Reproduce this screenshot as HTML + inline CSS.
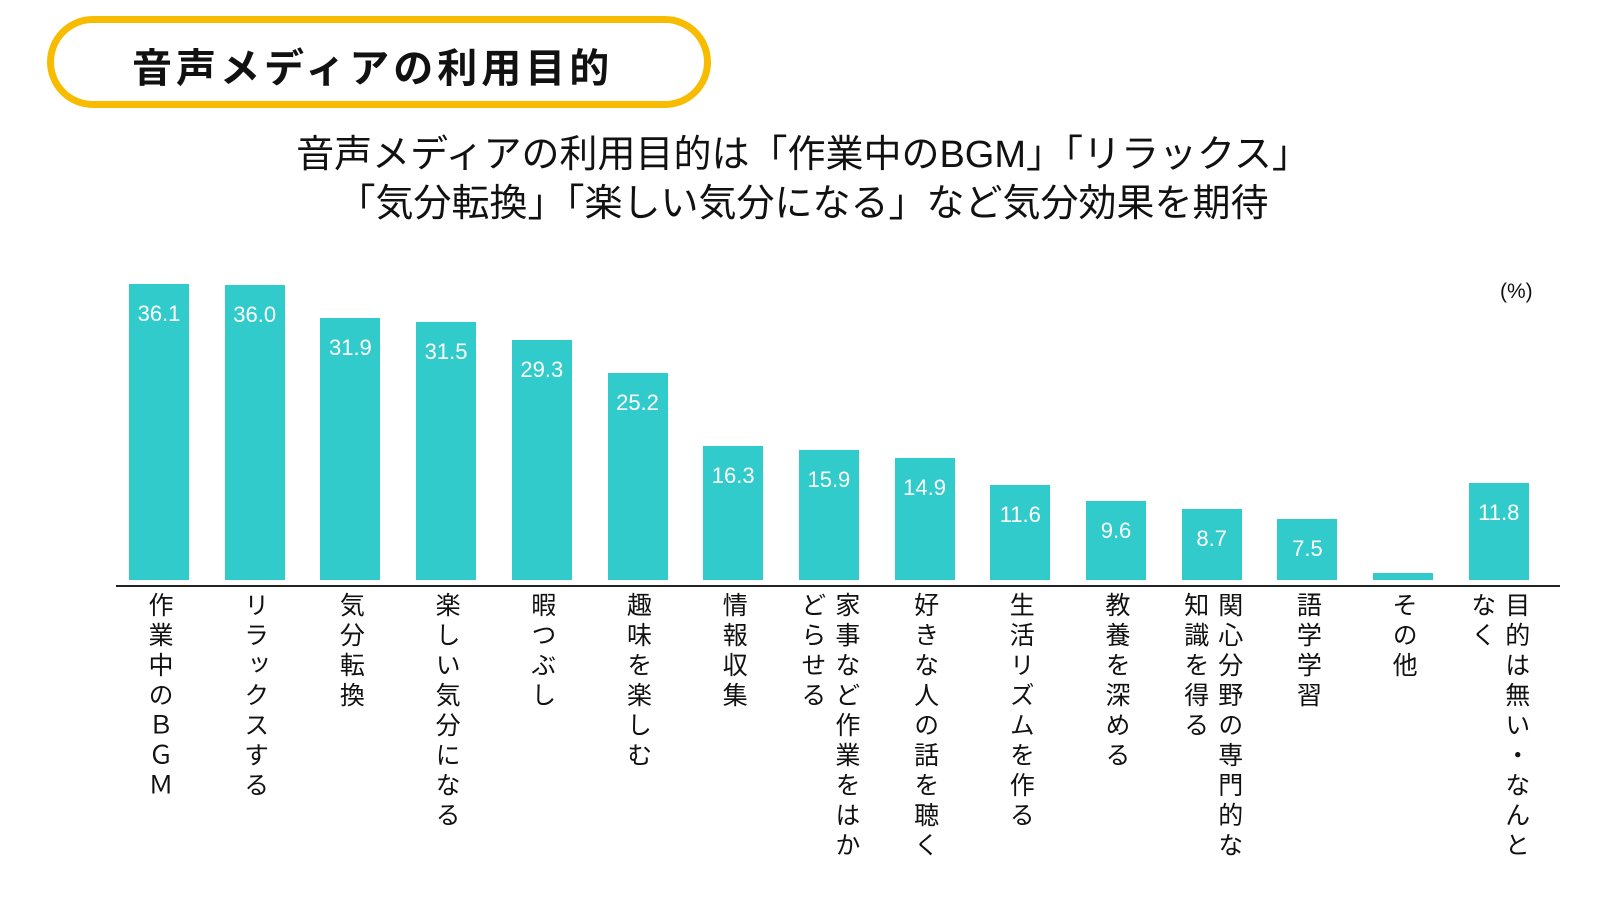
<!DOCTYPE html>
<html><head><meta charset="utf-8"><style>
body{margin:0;width:1600px;height:900px;background:#fff;position:relative;overflow:hidden;font-family:"Liberation Sans","Noto Sans CJK JP",sans-serif;color:#111}
.box{position:absolute;left:47px;top:16px;width:650px;height:78px;border:7px solid #F7BC00;border-radius:46px}
.ttl{position:absolute;left:132px;top:36px;font-size:40px;font-weight:bold;letter-spacing:4px}
.sub{position:absolute;left:0;width:1606px;text-align:center;font-size:38px;line-height:49px;top:131px}
.bar{position:absolute;width:60px;background:#32CBCB;bottom:320px}
.val{position:absolute;width:60px;text-align:center;color:#fff;font-size:22px}
.axis{position:absolute;left:116px;width:1444px;top:585px;height:2px;background:#222}
.lab{position:absolute;top:592px;writing-mode:vertical-rl;font-size:25px;letter-spacing:5px;line-height:34px;height:275px;transform:translateX(-50%)}
.pct{position:absolute;left:1500px;top:280px;font-size:21px}
</style></head><body>
<div class="box"></div>
<div class="ttl">音声メディアの利用目的</div>
<div class="sub">音声メディアの利用目的は「作業中のBGM」「リラックス」<br>「気分転換」「楽しい気分になる」など気分効果を期待</div>
<div class="pct">(%)</div>
<div class="axis"></div>
<div id="c"></div>
<script>
var d=[[36.1,"作業中のＢＧＭ"],[36.0,"リラックスする"],[31.9,"気分転換"],[31.5,"楽しい気分になる"],[29.3,"暇つぶし"],[25.2,"趣味を楽しむ"],[16.3,"情報収集"],[15.9,"家事など作業をはかどらせる"],[14.9,"好きな人の話を聴く"],[11.6,"生活リズムを作る"],[9.6,"教養を深める"],[8.7,"関心分野の専門的な知識を得る"],[7.5,"語学学習"],[0.9,"その他",1],[11.8,"目的は無い・なんとなく"]];
var h="";
d.forEach(function(e,i){var cx=159+95.7*i;var bh=e[0]*8.2;
h+='<div class="bar" style="left:'+(cx-30)+'px;height:'+bh+'px"></div>';
if(!e[2])h+='<div class="val" style="left:'+(cx-30)+'px;top:'+(580-bh+17)+'px">'+e[0].toFixed(1)+'</div>';
h+='<div class="lab" style="left:'+cx+'px">'+e[1]+'</div>';});
document.getElementById("c").innerHTML=h;
</script>
</body></html>
